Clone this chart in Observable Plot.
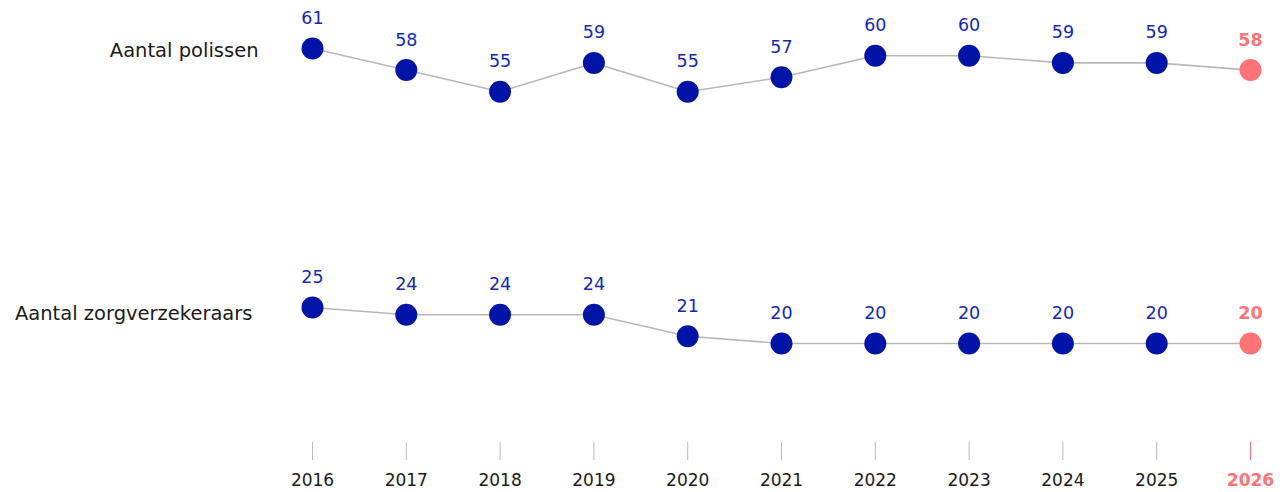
<!DOCTYPE html>
<html><head><meta charset="utf-8">
<script src="https://cdn.jsdelivr.net/npm/d3@7"></script>
<script src="https://cdn.jsdelivr.net/npm/@observablehq/plot@0.6"></script>
<style>body{margin:0;background:#fff;font-family:"DejaVu Sans",sans-serif}</style>
</head><body><div id="chart"></div>
<script>
const years = [2016, 2017, 2018, 2019, 2020, 2021, 2022, 2023, 2024, 2025, 2026];
const polissen = [61, 58, 55, 59, 55, 57, 60, 60, 59, 59, 58];
const zorgverzekeraars = [25, 24, 24, 24, 21, 20, 20, 20, 20, 20, 20];
const seriesLabels = ["Aantal polissen", "Aantal zorgverzekeraars"];
const highlightYear = 2026;

const BLUE = "#0014a8", LABEL_BLUE = "#1428b4", SALMON = "#ff7275", GRAY = "#b8b8b8", TEXT = "#1a1a1a";

const rows = [];
[polissen, zorgverzekeraars].forEach((vals, i) => {
  vals.forEach((v, j) => rows.push({series: seriesLabels[i], year: years[j], value: v}));
});
const firsts = rows.filter(d => d.year === years[0]);
const isHL = d => d.year === highlightYear;

const chart = Plot.plot({
  width: 1287,
  height: 492,
  marginLeft: 312,
  marginRight: 37,
  marginTop: 0,
  marginBottom: 50,
  style: {fontFamily: "'DejaVu Sans', sans-serif", background: "#fff"},
  x: {domain: [years[0], years[years.length - 1]]},
  y: {domain: [20, 61], range: [343, 48], axis: null},
  marks: [
    Plot.axisX({ticks: years.filter(y => y !== highlightYear), tickFormat: d => String(d), label: null, tickSize: 18, tickPadding: 13, fontSize: 17, color: "#bbbbbb", fill: TEXT}),
    Plot.axisX({ticks: [highlightYear], tickFormat: d => String(d), label: null, tickSize: 18, tickPadding: 13, fontSize: 17, color: SALMON, fontWeight: "bold"}),
    Plot.line(rows, {x: "year", y: "value", z: "series", stroke: GRAY, strokeWidth: 1.6}),
    Plot.dot(rows, {x: "year", y: "value", r: 11, fill: d => isHL(d) ? SALMON : BLUE, stroke: null}),
    Plot.text(rows.filter(d => !isHL(d)), {x: "year", y: "value", text: d => String(d.value), dy: -30, fontSize: 17.5, fill: LABEL_BLUE}),
    Plot.text(rows.filter(isHL), {x: "year", y: "value", text: d => String(d.value), dy: -30, fontSize: 17.5, fill: SALMON, fontWeight: "bold"}),
    Plot.text(firsts.slice(0, 1), {x: "year", y: "value", text: "series", textAnchor: "end", dx: -54, dy: 2, fontSize: 19.5, fill: TEXT}),
    Plot.text(firsts.slice(1, 2), {x: "year", y: "value", text: "series", textAnchor: "end", dx: -60, dy: 6, fontSize: 19.5, fill: TEXT})
  ]
});
document.getElementById("chart").append(chart);
</script>
</body></html>
